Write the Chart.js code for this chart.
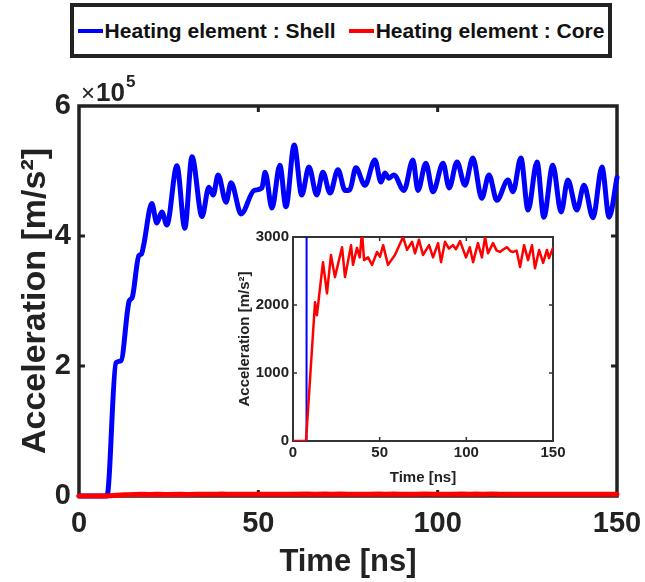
<!DOCTYPE html>
<html>
<head>
<meta charset="utf-8">
<script src="https://cdn.jsdelivr.net/npm/chart.js@4.4.1/dist/chart.umd.min.js"></script>
<style>
  html, body { margin: 0; padding: 0; background: #fff; }
  #wrap { position: relative; width: 645px; height: 582px; overflow: hidden; }
  canvas { position: absolute; }
  #legend {
    position: absolute; left: 70px; top: 3px; width: 542px; height: 55px;
    box-sizing: border-box; border: 4px solid #222; background: #fff;
    display: flex; align-items: center; justify-content: center; gap: 13px;
    font-family: "Liberation Sans", Arial, sans-serif;
    font-weight: bold; font-size: 21px; color: #111;
  }
  .item { display: flex; align-items: center; white-space: nowrap; }
  .swatch { display: inline-block; width: 25px; height: 4px; margin-right: 2px; }
</style>
</head>
<body>
<div id="wrap">
  <canvas id="main" width="645" height="582" style="left:0;top:0"></canvas>
  <canvas id="inset" width="350" height="270" style="left:225px;top:222px"></canvas>
  <div id="legend"></div>
</div>
<script>
// ---------------- data ----------------
const seriesNames = ["Heating element : Shell", "Heating element : Core"];
const seriesColors = ["#0000ff", "#ff0000"];

// Shell acceleration [m/s^2] vs time [ns]
const shellTime = [0, 7.8, 10.3, 11.7, 14.0, 14.8, 16.7, 17.4, 18.0, 20.3, 21.7, 23.1, 24.5, 27.3, 29.5, 31.5, 34.3, 36.2, 37.4, 38.8, 41.0, 42.4, 45.2, 48.8, 51.0, 51.9, 53.8, 56.0, 57.7, 60.0, 62.1, 64.1, 66.3, 68.0, 70.0, 72.2, 74.2, 75.5, 77.2, 79.7, 82.5, 84.2, 85.3, 86.4, 87.8, 90.6, 93.1, 94.5, 96.7, 98.7, 101.5, 103.2, 105.4, 107.6, 109.8, 112.3, 114.3, 116.5, 119.6, 121.0, 123.2, 125.2, 127.7, 129.6, 132.1, 134.4, 136.3, 138.8, 140.8, 143.3, 145.8, 147.8, 150.0];
const shellAccel = [0, 0, 205000, 208000, 300000, 305000, 370000, 372000, 385000, 450000, 420000, 437000, 417000, 508000, 412000, 522000, 430000, 475000, 463000, 494000, 452000, 482000, 434000, 470000, 474000, 498000, 443000, 509000, 445000, 540000, 463000, 506000, 463000, 498000, 466000, 502000, 470000, 471000, 505000, 478000, 517000, 483000, 497000, 489000, 494000, 470000, 517000, 470000, 512000, 468000, 512000, 474000, 514000, 478000, 520000, 458000, 494000, 455000, 486000, 468000, 520000, 440000, 514000, 429000, 509000, 437000, 486000, 440000, 478000, 428000, 506000, 429000, 490000];

// Core acceleration [m/s^2] vs time [ns]
const coreTime = [0, 7.0, 7.5, 12.7, 13.8, 17.3, 19.6, 21.9, 24.2, 28.3, 30.0, 33.5, 34.6, 36.9, 38.5, 39.8, 41.0, 43.3, 45.6, 48.5, 50.2, 52.0, 54.8, 58.8, 63.5, 65.8, 68.7, 70.4, 72.7, 75.0, 78.5, 80.8, 83.7, 85.4, 87.7, 90.0, 92.3, 94.0, 96.4, 99.8, 102.0, 103.9, 106.7, 109.0, 110.8, 112.5, 115.4, 117.5, 119.4, 121.5, 123.5, 125.5, 127.0, 129.0, 131.0, 133.3, 135.6, 137.9, 139.6, 142.0, 144.3, 146.5, 147.7, 150.0];
const coreAccel = [0, 0, 0, 2040, 1850, 2630, 2170, 2735, 2410, 2850, 2410, 2880, 2590, 2840, 2700, 3070, 2660, 2700, 2590, 2780, 2710, 2880, 2590, 2735, 3000, 2810, 2930, 2760, 2960, 2735, 2880, 2700, 2910, 2630, 2930, 2830, 2880, 2820, 2940, 2700, 2850, 2630, 2910, 2700, 3000, 2760, 2910, 2800, 2780, 2820, 2850, 2790, 2780, 2800, 2560, 2880, 2660, 2880, 2540, 2810, 2620, 2810, 2690, 2840];

// axis ticks
const mainXTicks = [0, 50, 100, 150];
const mainYTicks = [0, 200000, 400000, 600000];
const insetXTicks = [0, 50, 100, 150];
const insetYTicks = [0, 1000, 2000, 3000];
const mainExponent = 5;

// ---------------- helpers ----------------
const SANS = '"Liberation Sans", Arial, sans-serif';
const TXT = '#222222';

const pts = (xs, ys) => xs.map((x, i) => ({ x: x, y: ys[i] }));

// legend (HTML, real text)
const legendEl = document.getElementById('legend');
seriesNames.forEach((n, i) => {
  const it = document.createElement('div');
  it.className = 'item';
  const sw = document.createElement('span');
  sw.className = 'swatch';
  sw.style.background = seriesColors[i];
  const tx = document.createElement('span');
  tx.textContent = n;
  it.appendChild(sw); it.appendChild(tx);
  legendEl.appendChild(it);
});

const boxPlugin = {
  id: 'box',
  beforeDatasetsDraw(chart, args, o) {
    const { ctx, chartArea: { left, right, top, bottom }, scales: { x, y } } = chart;
    ctx.save();
    ctx.strokeStyle = o.color;
    ctx.lineWidth = o.width;
    ctx.strokeRect(left, top, right - left, bottom - top);
    ctx.lineWidth = o.tickWidth;
    ctx.beginPath();
    x.ticks.forEach(t => {
      const px = x.getPixelForValue(t.value);
      if (px <= left + 2 || px >= right - 2) return;
      ctx.moveTo(px, bottom); ctx.lineTo(px, bottom - o.tickLen);
      ctx.moveTo(px, top); ctx.lineTo(px, top + o.tickLen);
    });
    y.ticks.forEach(t => {
      const py = y.getPixelForValue(t.value);
      if (py <= top + 2 || py >= bottom - 2) return;
      ctx.moveTo(left, py); ctx.lineTo(left + o.tickLen, py);
      ctx.moveTo(right, py); ctx.lineTo(right - o.tickLen, py);
    });
    ctx.stroke();
    ctx.restore();
  }
};

const expPlugin = {
  id: 'exp',
  afterDraw(chart, args, o) {
    if (!o.show) return;
    const { ctx, chartArea: { left, top } } = chart;
    ctx.save();
    ctx.fillStyle = TXT;
    ctx.textBaseline = 'alphabetic';
    ctx.textAlign = 'left';
    let x = left + 2, base = top - 5;
    ctx.font = '24px ' + SANS;
    ctx.fillText('\u00d7', x, base);
    x += ctx.measureText('\u00d7').width + 1;
    ctx.font = 'bold 26px ' + SANS;
    ctx.fillText('10', x, base);
    x += ctx.measureText('10').width + 1;
    ctx.font = 'bold 17px ' + SANS;
    ctx.fillText(String(mainExponent), x, base - 14);
    ctx.restore();
  }
};

function lineDS(label, color, xs, ys, width, smooth) {
  return {
    label: label,
    data: pts(xs, ys),
    borderColor: color,
    backgroundColor: color,
    borderWidth: width,
    pointRadius: 0,
    fill: false,
    tension: smooth ? 0.4 : 0,
    cubicInterpolationMode: smooth ? 'monotone' : 'default',
    borderJoinStyle: 'round',
    borderCapStyle: 'round'
  };
}

const noSidePad = s => { s.paddingLeft = 0; s.paddingRight = 0; };

// ---------------- main chart ----------------
const mainTickFont = { family: SANS, size: 29, weight: 'bold' };

new Chart(document.getElementById('main'), {
  type: 'line',
  data: {
    datasets: [
      Object.assign(lineDS(seriesNames[1], seriesColors[1], coreTime, coreAccel, 5, false), { clip: 8 }),
      Object.assign(lineDS(seriesNames[0], seriesColors[0], shellTime, shellAccel, 5, true), { clip: 8 })
    ]
  },
  options: {
    responsive: false,
    animation: false,
    devicePixelRatio: 1,
    layout: { padding: { top: 106, right: 28, left: 0, bottom: 0 } },
    plugins: {
      legend: { display: false },
      tooltip: { enabled: false },
      box: { color: '#222', width: 3.5, tickWidth: 3, tickLen: 6 },
      exp: { show: true }
    },
    scales: {
      x: {
        type: 'linear', min: 0, max: 150,
        afterBuildTicks: s => { s.ticks = mainXTicks.map(v => ({ value: v })); },
        ticks: { font: mainTickFont, color: TXT, padding: 11, maxRotation: 0, autoSkip: false },
        grid: { display: false, drawTicks: false },
        border: { display: false },
        title: { display: true, text: 'Time [ns]', font: { family: SANS, size: 31, weight: 'bold' }, color: TXT, padding: { top: 0, bottom: 1 } },
        afterFit: s => { s.height = 86; noSidePad(s); }
      },
      y: {
        type: 'linear', min: 0, max: 600000,
        afterBuildTicks: s => { s.ticks = mainYTicks.map(v => ({ value: v })); },
        ticks: { font: mainTickFont, color: TXT, padding: 8, callback: v => String(v / Math.pow(10, mainExponent)) },
        grid: { display: false, drawTicks: false },
        border: { display: false },
        title: { display: true, text: 'Acceleration [m/s\u00b2]', font: { family: SANS, size: 34, weight: 'bold' }, color: TXT, padding: { top: 15, bottom: 0 } },
        afterFit: s => { s.width = 79; s.paddingTop = 0; s.paddingBottom = 0; }
      }
    }
  },
  plugins: [boxPlugin, expPlugin]
});

// ---------------- inset chart ----------------
const insetFont = { family: SANS, size: 15, weight: 'bold' };

new Chart(document.getElementById('inset'), {
  type: 'line',
  data: {
    datasets: [
      lineDS(seriesNames[1], seriesColors[1], coreTime, coreAccel, 2.5, false),
      lineDS(seriesNames[0], seriesColors[0], shellTime, shellAccel, 2, false)
    ]
  },
  options: {
    responsive: false,
    animation: false,
    devicePixelRatio: 1,
    layout: { padding: { top: 15, right: 22, left: 0, bottom: 0 } },
    plugins: {
      legend: { display: false },
      tooltip: { enabled: false },
      box: { color: '#333', width: 2, tickWidth: 1.5, tickLen: 4 },
      exp: { show: false }
    },
    scales: {
      x: {
        type: 'linear', min: 0, max: 150,
        afterBuildTicks: s => { s.ticks = insetXTicks.map(v => ({ value: v })); },
        ticks: { font: insetFont, color: TXT, padding: 3, maxRotation: 0, autoSkip: false, callback: v => String(v) },
        grid: { display: false, drawTicks: false },
        border: { display: false },
        title: { display: true, text: 'Time [ns]', font: insetFont, color: TXT, padding: { top: 0, bottom: 5 } },
        afterFit: s => { s.height = 51; noSidePad(s); }
      },
      y: {
        type: 'linear', min: 0, max: 3000,
        afterBuildTicks: s => { s.ticks = insetYTicks.map(v => ({ value: v })); },
        ticks: { font: insetFont, color: TXT, padding: 4, callback: v => String(v) },
        grid: { display: false, drawTicks: false },
        border: { display: false },
        title: { display: true, text: 'Acceleration [m/s\u00b2]', font: insetFont, color: TXT, padding: { top: 11, bottom: 0 } },
        afterFit: s => { s.width = 68; s.paddingTop = 0; s.paddingBottom = 0; }
      }
    }
  },
  plugins: [boxPlugin, expPlugin]
});
</script>
</body>
</html>
